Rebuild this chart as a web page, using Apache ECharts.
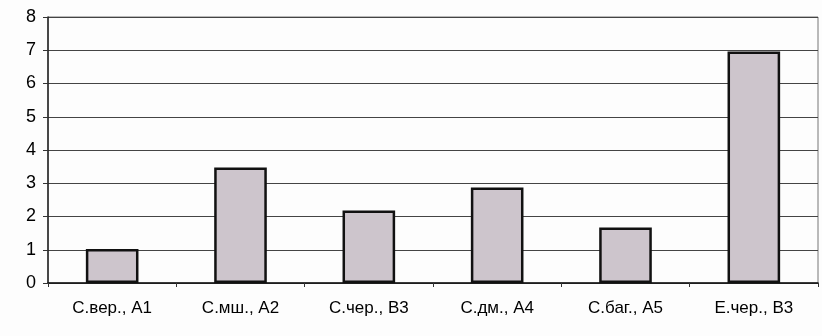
<!DOCTYPE html>
<html><head><meta charset="utf-8">
<script src="https://cdn.jsdelivr.net/npm/echarts@6/dist/echarts.min.js"></script>
<style>html,body{margin:0;padding:0;background:#fff}#c{width:822px;height:336px}</style>
</head><body><div id="c"></div>
<script>
const categories = ['С.вер., А1','С.мш., А2','С.чер., В3','С.дм., А4','С.баг., А5','Е.чер., В3'];
const values = [1.02, 3.47, 2.18, 2.87, 1.67, 6.96];
const yTicks = [0,1,2,3,4,5,6,7,8];

const chart = echarts.init(document.getElementById('c'));
chart.setOption({
  backgroundColor: '#fdfdfd',
  animation: false,
  grid: {left: 48, right: 4, top: 17, bottom: 53, show: true, borderColor: '#777', borderWidth: 1},
  xAxis: {
    type: 'category', data: categories,
    axisLine: {lineStyle: {color: '#111', width: 1.5}},
    axisTick: {show: true, alignWithLabel: false, length: 4, lineStyle: {color: '#333'}},
    axisLabel: {color: '#000', fontSize: 17, fontFamily: 'Liberation Sans, Arial', margin: 17}
  },
  yAxis: {
    type: 'value', min: yTicks[0], max: yTicks[yTicks.length-1], interval: 1,
    axisLine: {show: true, lineStyle: {color: '#222', width: 1.5}},
    axisTick: {show: true, length: 5, lineStyle: {color: '#333'}},
    splitLine: {lineStyle: {color: '#444', width: 1.2}},
    axisLabel: {color: '#000', fontSize: 18, fontFamily: 'Liberation Sans, Arial', margin: 12}
  },
  series: [{
    type: 'bar', data: values, barWidth: '41%',
    itemStyle: {color: '#cdc5cc', borderColor: '#111', borderWidth: 2.5}
  }]
});
</script></body></html>
